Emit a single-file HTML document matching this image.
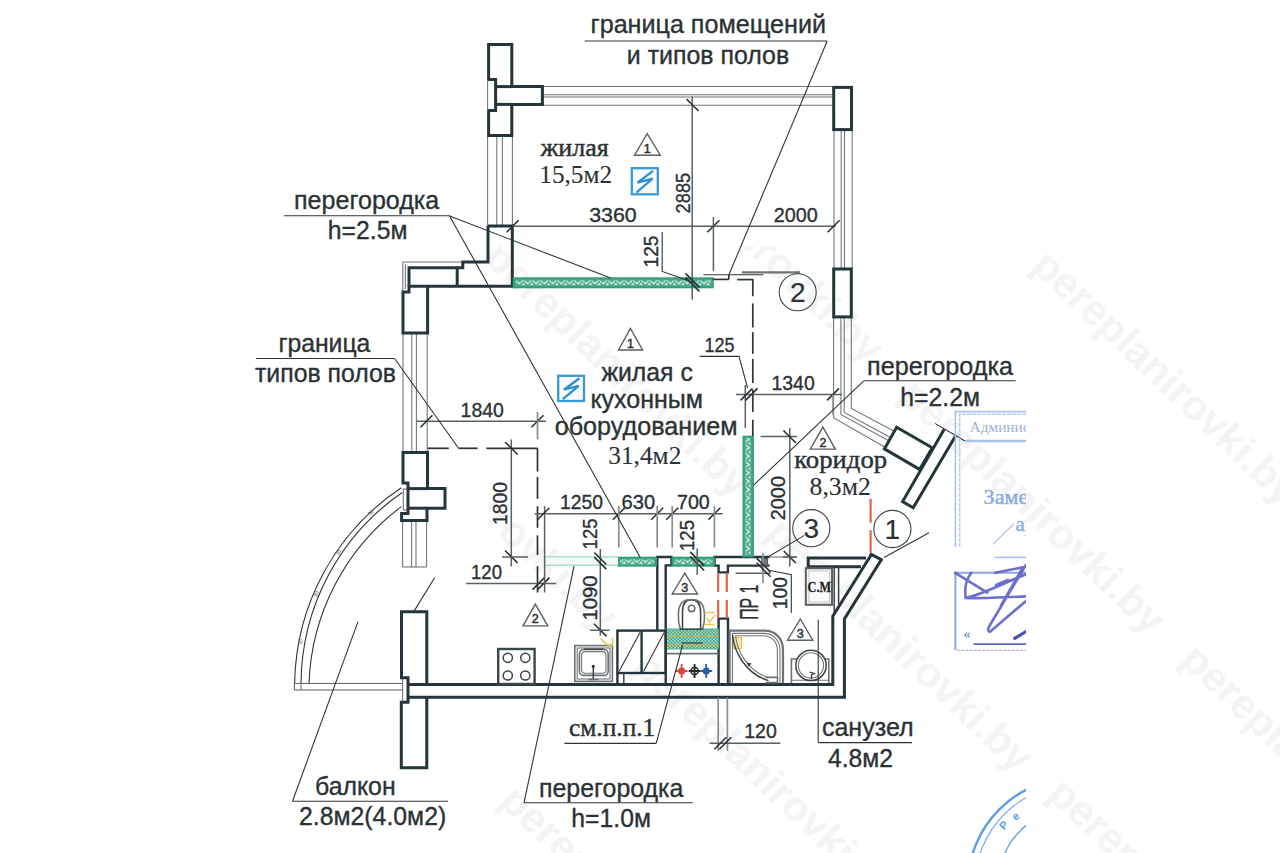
<!DOCTYPE html>
<html lang="ru"><head><meta charset="utf-8"><title>План</title>
<style>
html,body{margin:0;padding:0;background:#fff;}
body{width:1280px;height:853px;overflow:hidden;font-family:"Liberation Sans",sans-serif;}
svg{display:block}
text{font-family:"Liberation Sans",sans-serif;fill:#2b3235;stroke:#2b3235;stroke-width:0.35px;}
.s25{font-size:25px} .s20{font-size:20px} .s26{font-size:26px} .s27{font-size:28px;stroke-width:0.2px}
.s11{font-size:12.5px;stroke-width:0.5px} .s5{font-size:5.5px;fill:#555;stroke:none}
.f25{font-family:"Liberation Serif",serif;font-size:25.5px;stroke-width:0.1px}
.fb{stroke-width:0.45px}
.cmt{font-family:"Liberation Serif",serif;font-weight:bold;font-size:15px;fill:#222}
.wm{font-weight:bold;fill:#f4f4f4;stroke:none;font-family:"Liberation Sans",sans-serif}
.st{stroke:none;font-family:"Liberation Serif",serif;font-size:15.5px;fill:#9bb3dd}
.st2{font-family:"Liberation Serif",serif;font-size:21px;fill:#86acdf;stroke:#86acdf;stroke-width:0.4px}
.st3{stroke:none;font-family:"Liberation Serif",serif;font-size:14px;fill:#5b78c8}
.st4{stroke:none;font-size:11px;font-weight:bold;fill:#5b9ee2}
.w{fill:none;stroke:#24363a;stroke-width:3;stroke-linejoin:miter}
.w2{fill:none;stroke:#24363a;stroke-width:2.4;stroke-linejoin:miter}
.k{fill:none;stroke:#2e3538;stroke-width:1.1}
.k4{fill:none;stroke:#565c5f;stroke-width:1}
.dm{fill:none;stroke:#596063;stroke-width:1.5}
.ex{fill:none;stroke:#8a8e91;stroke-width:1.7}
.tk{fill:none;stroke:#2a3235;stroke-width:1.6}
.k2{fill:none;stroke:#3a4446;stroke-width:1.5}
.k3{fill:none;stroke:#39474b;stroke-width:2.4}
.k15{fill:none;stroke:#3a4346;stroke-width:1.5}
.g{fill:none;stroke:#727779;stroke-width:1.1}
.g2{fill:none;stroke:#6c7275;stroke-width:1.6}
.g3{fill:none;stroke:#6d7376;stroke-width:2.2}
.gf{fill:#70787b;stroke:#4a5356;stroke-width:1}
.t{stroke:#444;stroke-width:1}
.d{fill:none;stroke:#2a3336;stroke-width:1.7}
.r{stroke:#e2634a;stroke-width:2.2}
.od{stroke:#e9a83e;stroke-width:1.4;stroke-dasharray:3 1.6}
.gp{fill:#43a887;stroke:#2f9d7c;stroke-width:1.4}
.lpl{stroke:#a5d3c3;stroke-width:1.3}
.gb{fill:#3aa585;stroke:#2f9d7c;stroke-width:1.2}
.tr{fill:none;stroke:#5a6164;stroke-width:1.4}
.cn{fill:none;stroke:#3c4447;stroke-width:1.1}
.cm{fill:#f3f3f3;stroke:#5a5f62;stroke-width:2}
.cm2{fill:#fbfbfb;stroke:#c8c8c8;stroke-width:1}
.bl{stroke:#a8c4ec;stroke-width:2}
</style></head><body>
<svg width="1280" height="853" viewBox="0 0 1280 853">
<defs>
<pattern id="hz" width="8.4" height="4.8" patternUnits="userSpaceOnUse"><path d="M0 4.4 L2.6 0.4 L5 4.4 M5.8 0.6 H8 M5.8 4.2 H8" fill="none" stroke="#e6f4ee" stroke-width="1.3"/></pattern>
<pattern id="hv" width="5" height="8.4" patternUnits="userSpaceOnUse"><path d="M0.4 0 L4.6 2.6 L0.4 5 M0.8 5.8 V8 M4.2 5.8 V8" fill="none" stroke="#e6f4ee" stroke-width="1.3"/></pattern>
<pattern id="xh" width="3.4" height="3.4" patternUnits="userSpaceOnUse"><path d="M0 0 L3.4 3.4 M3.4 0 L0 3.4" fill="none" stroke="#d9f0e8" stroke-width="0.6"/></pattern>
<clipPath id="clw"><rect x="488" y="246" width="792" height="607"/></clipPath>
<clipPath id="cl2"><rect x="900" y="380" width="126" height="473"/></clipPath>
</defs>
<rect width="1280" height="853" fill="#ffffff"/>
<g id="wm" clip-path="url(#clw)">
<text class="wm" x="615" y="126" font-size="42" transform="rotate(43.5 615 126)">pereplanirovki.by</text>
<text class="wm" x="482" y="260" font-size="42" transform="rotate(43.5 482 260)">pereplanirovki.by</text>
<text class="wm" x="349" y="394" font-size="42" transform="rotate(43.5 349 394)">pereplanirovki.by</text>
<text class="wm" x="1030" y="268" font-size="42" transform="rotate(43.5 1030 268)">pereplanirovki.by</text>
<text class="wm" x="897" y="397" font-size="42" transform="rotate(43.5 897 397)">pereplanirovki.by</text>
<text class="wm" x="764" y="535" font-size="42" transform="rotate(43.5 764 535)">pereplanirovki.by</text>
<text class="wm" x="631" y="669" font-size="42" transform="rotate(43.5 631 669)">pereplanirovki.by</text>
<text class="wm" x="498" y="803" font-size="42" transform="rotate(43.5 498 803)">pereplanirovki.by</text>
<text class="wm" x="1312" y="528" font-size="42" transform="rotate(43.5 1312 528)">pereplanirovki.by</text>
<text class="wm" x="1179" y="662" font-size="42" transform="rotate(43.5 1179 662)">pereplanirovki.by</text>
<text class="wm" x="1046" y="796" font-size="42" transform="rotate(43.5 1046 796)">pereplanirovki.by</text>
</g>
<line class="g" x1="543.0" y1="86.5" x2="833.0" y2="86.5" />
<line class="g" x1="543.0" y1="94.8" x2="833.0" y2="94.8" />
<line class="g" x1="543.0" y1="97.0" x2="833.0" y2="97.0" />
<line class="g" x1="543.0" y1="105.2" x2="833.0" y2="105.2" />
<line class="g" x1="487.6" y1="137.0" x2="487.6" y2="226.0" />
<line class="g" x1="496.8" y1="137.0" x2="496.8" y2="226.0" />
<line class="g" x1="502.4" y1="137.0" x2="502.4" y2="226.0" />
<line class="g" x1="512.4" y1="137.0" x2="512.4" y2="226.0" />
<line class="g" x1="834.0" y1="130.5" x2="834.0" y2="268.5" />
<line class="g" x1="841.2" y1="130.5" x2="841.2" y2="268.5" />
<line class="g" x1="844.5" y1="130.5" x2="844.5" y2="268.5" />
<line class="g" x1="852.2" y1="130.5" x2="852.2" y2="268.5" />
<path class="g" d="M833.6 318.0 L833.6 417.8 L884.6 447.0"/>
<path class="g" d="M840.9 318.0 L840.9 414.5 L888.2 440.6"/>
<path class="g" d="M844.2 318.0 L844.2 412.5 L890.0 437.3"/>
<path class="g" d="M851.3 318.0 L851.3 408.4 L893.8 431.0"/>
<line class="g" x1="403.0" y1="333.0" x2="403.0" y2="452.5" />
<line class="g" x1="411.8" y1="333.0" x2="411.8" y2="452.5" />
<line class="g" x1="416.4" y1="333.0" x2="416.4" y2="452.5" />
<line class="g" x1="427.2" y1="333.0" x2="427.2" y2="452.5" />
<line class="g" x1="402.6" y1="520.5" x2="402.6" y2="567.0" />
<line class="g" x1="411.6" y1="520.5" x2="411.6" y2="567.0" />
<line class="g" x1="416.0" y1="520.5" x2="416.0" y2="567.0" />
<line class="g" x1="426.6" y1="520.5" x2="426.6" y2="567.0" />
<line class="g" x1="402.6" y1="567.0" x2="426.6" y2="567.0" />
<path class="g" d="M462.5 262.0 L402.8 262.0 L402.8 292.0"/>
<line class="g" x1="405.4" y1="264.5" x2="405.4" y2="289.0" />
<path class="k" d="M401.3 487.8 A239.5 239.5 0 0 0 294.6 683.4"/>
<path class="k" d="M402.2 492.5 A234 234 0 0 0 301.0 683.4"/>
<path class="k" d="M401.3 506.6 A231.3 231.3 0 0 0 309.0 683.4"/>
<line class="k4" x1="294.4" y1="683.4" x2="402.0" y2="683.4" />
<line class="k4" x1="294.4" y1="690.0" x2="402.0" y2="690.0" />
<line class="k4" x1="294.4" y1="683.4" x2="294.4" y2="690.0" />
<line class="g" x1="301.0" y1="683.4" x2="301.0" y2="690.0" />
<rect class="g" x="403.3" y="489.0" width="4.3" height="21.0" />
<rect class="g" x="402.6" y="678.0" width="5.0" height="24.0" />
<text class="s5" x="372" y="514" transform="rotate(-40 372 514)" text-anchor="middle">30</text>
<text class="s5" x="340" y="553" transform="rotate(-55 340 553)" text-anchor="middle">35</text>
<text class="s5" x="318" y="595" transform="rotate(-65 318 595)" text-anchor="middle">30</text>
<text class="s5" x="302" y="642" transform="rotate(-80 302 642)" text-anchor="middle">10</text>
<path class="w" d="M488.6 44.4 L511.8 44.4 L511.8 86.6 L542.4 86.6 L542.4 104.4 L511.8 104.4 L511.8 135.6 L488.6 135.6 L488.6 110.6 L495.6 110.6 L495.6 79.6 L488.6 79.6 Z"/>
<line class="w" x1="495.6" y1="86.6" x2="511.8" y2="86.6" />
<line class="w" x1="495.6" y1="104.4" x2="511.8" y2="104.4" />
<line class="g" x1="487.6" y1="80.0" x2="487.6" y2="110.4" />
<rect class="w" x="833.7" y="87.4" width="17.8" height="42.2" />
<rect class="w" x="833.7" y="269.0" width="17.6" height="47.9" />
<path class="w" d="M488.0 226.0 L512.3 226.0 L512.3 286.2 L409.0 286.2 L409.0 292.0 L403.0 292.0 L403.0 333.0 L427.6 333.0 L427.6 286.2"/>
<path class="w" d="M488.0 226.0 L488.0 262.0 L462.8 262.0 L462.8 267.8 L409.0 267.8 L409.0 286.2"/>
<line class="w" x1="457.2" y1="267.8" x2="457.2" y2="286.2" />
<path class="w" d="M403.0 452.6 L427.5 452.6 L427.5 488.6 L445.0 488.6 L445.0 508.2 L427.0 508.2 L427.0 520.5 L401.6 520.5 L401.6 513.5 L408.0 513.5 L408.0 483.0 L403.0 483.0 Z"/>
<line class="w" x1="408.0" y1="488.6" x2="427.5" y2="488.6" />
<line class="w" x1="408.0" y1="508.2" x2="427.0" y2="508.2" />
<path class="w" d="M426.8 684.4 L426.8 611.7 L401.5 611.7 L401.5 677.8 L408.0 677.8 L408.0 702.3 L401.3 702.3 L401.3 767.8 L426.8 767.8 L426.8 697.2"/>
<path class="w" d="M408.0 684.4 L832.8 684.4 L832.8 616.2 L870.9 555.2"/>
<path class="w" d="M408.0 697.2 L844.4 697.2 L844.4 619.0 L881.6 559.3"/>
<line class="w" x1="869.8" y1="553.6" x2="882.6" y2="560.4" />
<path class="w" d="M866.0 558.1 L808.2 558.1 L808.2 566.8 L861.0 566.8"/>
<line class="k2" x1="834.2" y1="567.0" x2="834.2" y2="612.0" />
<line class="k2" x1="838.6" y1="567.0" x2="838.6" y2="604.0" />
<rect class="cm" x="805.8" y="568.2" width="26.2" height="36.6" />
<rect class="cm2" x="809.0" y="571.0" width="20.5" height="31.0" />
<text class="cmt" x="807.6" y="592.2" textLength="23.4" lengthAdjust="spacingAndGlyphs" text-anchor="start">С.М</text>
<path class="w2" d="M657.3 630.6 L657.3 557.0 L671.4 557.0 L671.4 565.4 L665.7 565.4 L665.7 684.0"/>
<path class="w2" d="M769.5 557.0 L714.5 557.0 L714.5 565.6 L718.6 565.6 L718.6 572.4 L727.9 572.4 L727.9 565.6 L769.5 565.6"/>
<rect class="gf" x="761.8" y="558.0" width="5.8" height="8.0" />
<line class="g" x1="769.5" y1="557.0" x2="797.0" y2="557.0" />
<path class="w2" d="M718.6 684.0 L718.6 618.6 L728.0 618.6 L728.0 684.0"/>
<line class="r" x1="718.2" y1="573.4" x2="718.2" y2="592.0" />
<line class="r" x1="718.2" y1="600.0" x2="718.2" y2="617.8" />
<line class="r" x1="726.8" y1="573.4" x2="726.8" y2="592.0" />
<line class="r" x1="726.8" y1="600.0" x2="726.8" y2="617.8" />
<line class="r" x1="870.6" y1="498.8" x2="870.6" y2="522.8" />
<line class="r" x1="870.6" y1="530.2" x2="870.6" y2="552.6" />
<path class="w" d="M896.6 427.2 L932.2 447.8 L919.6 469.4 L884.4 448.9 Z"/>
<path class="w" d="M944.2 429.2 L902.6 501.6 L913.2 507.8 L955.8 435.6"/>
<line class="k" x1="935.0" y1="423.4" x2="965.0" y2="441.0" />
<rect class="gp" x="513.4" y="278.0" width="199.6" height="9.6" />
<rect class="gp" x="743.2" y="436.4" width="10.0" height="120.2" />
<rect class="gp" x="618.0" y="557.4" width="38.2" height="8.6" />
<rect class="gp" x="672.2" y="557.4" width="42.0" height="8.6" />
<rect x="533" y="556.2" width="85" height="9.6" fill="#f4f8f6"/>
<line class="lpl" x1="545.0" y1="556.8" x2="618.0" y2="556.8" />
<line class="lpl" x1="545.0" y1="565.2" x2="618.0" y2="565.2" />
<rect x="516" y="280.4" width="195" height="4.8" fill="url(#hz)"/>
<rect x="745.6" y="438" width="5" height="117" fill="url(#hv)"/>
<rect x="620.4" y="559.4" width="33.6" height="4.8" fill="url(#hz)"/>
<rect x="674.6" y="559.4" width="37.8" height="4.8" fill="url(#hz)"/>
<rect class="gb" x="665.5" y="629.2" width="53.0" height="19.6" />
<rect x="665.5" y="629.2" width="53" height="19.6" fill="url(#xh)"/>
<line class="od" x1="665.5" y1="635.8" x2="718.5" y2="635.8" />
<line class="od" x1="665.5" y1="645.0" x2="718.5" y2="645.0" />
<line class="k" x1="681.5" y1="643.0" x2="703.0" y2="643.0" />
<line class="g2" x1="665.7" y1="653.6" x2="718.6" y2="653.6" />
<line class="d" x1="712.6" y1="279.4" x2="728.8" y2="279.4" />
<line class="d" x1="728.8" y1="275.0" x2="728.8" y2="279.4" />
<line class="d" x1="737.2" y1="279.6" x2="753.2" y2="279.6" />
<line class="d" x1="752.8" y1="279.6" x2="752.8" y2="296.2" />
<line class="d" x1="752.8" y1="303.4" x2="752.8" y2="327.5" />
<line class="d" x1="752.8" y1="332.2" x2="752.8" y2="353.8" />
<line class="d" x1="752.8" y1="358.8" x2="752.8" y2="383.0" />
<line class="d" x1="752.8" y1="389.7" x2="752.8" y2="412.0" />
<line class="d" x1="752.8" y1="419.7" x2="752.8" y2="436.0" />
<line class="d" x1="427.5" y1="448.3" x2="448.8" y2="448.3" />
<line class="d" x1="458.4" y1="448.3" x2="477.6" y2="448.3" />
<line class="d" x1="486.4" y1="448.3" x2="537.5" y2="448.3" />
<line class="d" x1="537.5" y1="448.3" x2="537.5" y2="471.5" />
<line class="d" x1="537.5" y1="477.0" x2="537.5" y2="498.8" />
<line class="d" x1="537.5" y1="506.2" x2="537.5" y2="527.8" />
<line class="d" x1="537.5" y1="535.3" x2="537.5" y2="555.0" />
<line class="d" x1="537.5" y1="566.2" x2="537.5" y2="592.5" />
<rect class="k3" x="498.2" y="649.0" width="36.4" height="35.0" />
<circle class="k15" cx="507.8" cy="657.8" r="4.6"/>
<circle class="k15" cx="507.8" cy="675.5" r="4.6"/>
<circle class="k15" cx="525.3" cy="657.8" r="4.6"/>
<circle class="k15" cx="525.3" cy="675.5" r="4.6"/>
<rect class="g2" x="574.8" y="645.6" width="37.6" height="35.8" />
<rect class="g" x="577.2" y="648.0" width="32.8" height="31.0" />
<rect class="g2" x="579.4" y="649.4" width="28.8" height="26" rx="4.5"/>
<rect class="g" x="581.6" y="651.6" width="24.4" height="21.6" rx="3.5"/>
<line class="k2" x1="584.0" y1="649.2" x2="603.4" y2="649.2" />
<circle cx="593.3" cy="666.4" r="1.6" fill="#333"/>
<line class="k2" x1="593.3" y1="667.0" x2="593.3" y2="679.5" />
<line class="g2" x1="588.5" y1="679.5" x2="598.5" y2="679.5" />
<rect class="w2" x="617.4" y="630.6" width="48.3" height="42.4" />
<line class="w2" x1="641.6" y1="630.6" x2="641.6" y2="673.0" />
<line class="k" x1="619.0" y1="671.5" x2="640.0" y2="632.5" />
<line class="k" x1="643.5" y1="671.5" x2="664.2" y2="632.5" />
<line class="w2" x1="617.4" y1="673.0" x2="617.4" y2="684.0" />
<line class="k2" x1="623.8" y1="673.0" x2="623.8" y2="684.0" />
<circle cx="681.6" cy="671" r="3.6" fill="#d8463c"/>
<path d="M675.6 671 H687.6 M681.6 664 V678" stroke="#d8463c" stroke-width="1.8" fill="none"/>
<circle cx="694.6" cy="671" r="3.6" fill="none" stroke="#222a2c" stroke-width="1.6"/>
<path d="M688.6 671 H700.6 M694.6 664 V678" stroke="#222a2c" stroke-width="1.8" fill="none"/>
<circle cx="706.2" cy="671" r="3.6" fill="#2a5f9e"/>
<path d="M700.2 671 H712.2 M706.2 664 V678" stroke="#2a5f9e" stroke-width="1.8" fill="none"/>
<path class="k15" d="M682.5 629 V612 C682.5 603 686 599.8 691.3 599.8 C696.6 599.8 700.6 603 700.6 612 V629"/>
<path class="g2" d="M680.4 629.4 C677.2 620 677.6 607 682 602.6 C686 598.4 696.6 598.4 700.8 602.6 C705.2 607 705.6 620 702.6 629.4"/>
<circle class="g2" cx="691.6" cy="608.4" r="3.2"/>
<line class="k2" x1="680.0" y1="629.2" x2="703.0" y2="629.2" />
<path d="M704.5 612.5 h10 M704.5 624.5 h10 M706.5 617.9 l3.0 4.199999999999999 l5.5 -7.199999999999999" fill="none" stroke="#efc24a" stroke-width="1.5"/>
<path d="M600.5 638.5 l7 6.5 M607.5 645 h5 M612.5 638 v8" fill="none" stroke="#efc24a" stroke-width="1.6"/>
<rect x="733" y="637.5" width="8.5" height="11" fill="#f7e6b4" stroke="#efc24a" stroke-width="1.2"/>
<path class="g3" d="M729.6 683 V630.6 H764 C776 630.6 783 639 783 650 V683"/>
<path class="g" d="M732.4 683 V633.4 H763.6 C774 633.4 780 641 780 650.6 V683"/>
<path class="g" d="M735.4 635.8 H763 C772.4 635.8 777.4 642.4 777.4 651 V678"/>
<path class="k15" d="M732.6 635 C734 652 746 674 768.5 680.6"/>
<path class="g" d="M735.6 636 C737 651 748 671.4 768.5 677.6"/>
<path class="g2" d="M765.5 677.4 h12 v5.2 h-12"/>
<path d="M747 662.6 l4.5 1 l-3 3.2 z" fill="#333"/>
<path class="g2" d="M791.4 683 V659 H797 M825 659 H828.8 V683"/>
<line class="g" x1="791.4" y1="680.2" x2="828.8" y2="680.2" />
<circle class="k15" cx="811" cy="665.4" r="15.2"/>
<circle class="g" cx="811" cy="665.4" r="12.6"/>
<path d="M809.5 672 l4.6 1.4 l-2.6 1.6 v4" fill="none" stroke="#333" stroke-width="1.3"/>
<line class="dm" x1="692.2" y1="96.5" x2="692.2" y2="299.5" />
<line class="tk" x1="686.5" y1="99.0" x2="698.5" y2="111.0" />
<line class="tk" x1="685.4" y1="273.4" x2="699.4" y2="287.4" />
<line class="tk" x1="685.4" y1="277.4" x2="699.4" y2="291.4" />
<line class="dm" x1="512.4" y1="226.2" x2="835.5" y2="226.2" />
<line class="tk" x1="506.6" y1="232.2" x2="518.6" y2="220.2" />
<line class="tk" x1="707.4" y1="232.2" x2="719.4" y2="220.2" />
<line class="tk" x1="827.6" y1="232.2" x2="839.6" y2="220.2" />
<line class="dm" x1="713.4" y1="217.0" x2="713.4" y2="271.0" />
<path class="k" d="M662.2 232.0 L662.2 271.4 L695.0 283.0"/>
<line class="k" x1="703.4" y1="274.8" x2="763.4" y2="274.8" />
<line class="g3" x1="742.0" y1="272.4" x2="800.0" y2="272.4" />
<path class="k" d="M699.6 356.4 L739.0 356.4 L747.6 388.0"/>
<line class="dm" x1="745.3" y1="385.0" x2="745.3" y2="428.0" />
<line class="dm" x1="736.0" y1="394.4" x2="842.0" y2="394.4" />
<line class="tk" x1="740.5" y1="400.4" x2="752.5" y2="388.4" />
<line class="tk" x1="745.5" y1="400.4" x2="757.5" y2="388.4" />
<line class="tk" x1="827.0" y1="400.4" x2="839.0" y2="388.4" />
<line class="ex" x1="833.0" y1="394.4" x2="833.0" y2="415.0" />
<line class="dm" x1="760.6" y1="436.6" x2="797.0" y2="436.6" />
<line class="dm" x1="789.8" y1="428.0" x2="789.8" y2="566.4" />
<line class="tk" x1="783.5" y1="430.5" x2="796.0" y2="443.0" />
<line class="tk" x1="783.8" y1="551.0" x2="795.8" y2="563.0" />
<line class="dm" x1="783.0" y1="557.0" x2="797.0" y2="557.0" />
<line class="dm" x1="416.6" y1="421.2" x2="546.0" y2="421.2" />
<line class="tk" x1="420.5" y1="427.2" x2="432.5" y2="415.2" />
<line class="tk" x1="531.5" y1="427.2" x2="543.5" y2="415.2" />
<line class="ex" x1="537.5" y1="412.0" x2="537.5" y2="439.4" />
<line class="dm" x1="511.3" y1="439.4" x2="511.3" y2="566.4" />
<line class="tk" x1="505.0" y1="442.0" x2="517.6" y2="454.5" />
<line class="tk" x1="505.0" y1="550.5" x2="517.6" y2="563.0" />
<line class="dm" x1="502.0" y1="557.0" x2="528.0" y2="557.0" />
<line class="dm" x1="466.2" y1="583.6" x2="556.2" y2="583.6" />
<line class="tk" x1="532.5" y1="589.6" x2="544.5" y2="577.6" />
<line class="tk" x1="537.5" y1="589.6" x2="549.5" y2="577.6" />
<line class="dm" x1="544.6" y1="506.0" x2="544.6" y2="592.5" />
<line class="dm" x1="534.6" y1="513.8" x2="722.8" y2="513.8" />
<line class="tk" x1="537.4" y1="519.8" x2="549.4" y2="507.8" />
<line class="tk" x1="612.8" y1="519.8" x2="624.8" y2="507.8" />
<line class="tk" x1="651.2" y1="519.8" x2="663.2" y2="507.8" />
<line class="tk" x1="666.2" y1="519.8" x2="678.2" y2="507.8" />
<line class="tk" x1="708.4" y1="519.8" x2="720.4" y2="507.8" />
<line class="ex" x1="618.8" y1="506.0" x2="618.8" y2="547.5" />
<line class="ex" x1="657.2" y1="506.0" x2="657.2" y2="547.5" />
<line class="ex" x1="672.2" y1="506.0" x2="672.2" y2="547.5" />
<line class="ex" x1="714.4" y1="506.0" x2="714.4" y2="547.5" />
<line class="dm" x1="600.3" y1="549.0" x2="600.3" y2="635.6" />
<line class="tk" x1="594.3" y1="552.5" x2="606.3" y2="564.5" />
<line class="tk" x1="594.3" y1="557.1" x2="606.3" y2="569.1" />
<line class="tk" x1="594.0" y1="623.8" x2="606.6" y2="636.4" />
<line class="dm" x1="590.0" y1="630.2" x2="609.6" y2="630.2" />
<line class="tk" x1="690.2" y1="551.9" x2="704.2" y2="565.9" />
<line class="tk" x1="690.2" y1="556.5" x2="704.2" y2="570.5" />
<line class="dm" x1="697.2" y1="548.6" x2="697.2" y2="574.8" />
<line class="dm" x1="735.5" y1="573.2" x2="770.5" y2="573.2" />
<line class="ex" x1="763.0" y1="553.0" x2="763.0" y2="583.0" />
<path class="k" d="M770.5 570.5 L791.3 574.8 L791.3 613.0"/>
<line class="tk" x1="756.6" y1="558.1" x2="770.6" y2="572.1" />
<line class="tk" x1="756.6" y1="562.7" x2="770.6" y2="576.7" />
<line class="ex" x1="718.2" y1="697.5" x2="718.2" y2="751.0" />
<line class="ex" x1="727.4" y1="697.5" x2="727.4" y2="751.0" />
<line class="dm" x1="709.6" y1="743.2" x2="780.4" y2="743.2" />
<line class="tk" x1="714.3" y1="749.2" x2="726.3" y2="737.2" />
<line class="tk" x1="719.3" y1="749.2" x2="731.3" y2="737.2" />
<line class="k" x1="584.6" y1="41.0" x2="827.2" y2="41.0" />
<line class="k" x1="827.2" y1="41.0" x2="728.8" y2="275.0" />
<line class="k" x1="284.0" y1="215.8" x2="450.0" y2="215.8" />
<line class="k" x1="449.6" y1="216.0" x2="610.6" y2="278.0" />
<line class="k" x1="449.6" y1="216.0" x2="640.0" y2="557.0" />
<line class="k" x1="256.0" y1="358.5" x2="394.6" y2="358.5" />
<line class="k" x1="394.6" y1="358.5" x2="458.6" y2="448.3" />
<line class="k" x1="863.8" y1="380.8" x2="1015.6" y2="380.8" />
<line class="k" x1="863.8" y1="380.8" x2="753.4" y2="485.4" />
<line class="k" x1="804.4" y1="535.4" x2="765.0" y2="558.8" />
<line class="k" x1="929.0" y1="532.8" x2="884.0" y2="557.6" />
<line class="k" x1="818.2" y1="619.8" x2="818.2" y2="742.6" />
<line class="k" x1="818.2" y1="742.6" x2="912.0" y2="742.6" />
<line class="k" x1="564.4" y1="743.4" x2="656.2" y2="743.4" />
<line class="k" x1="656.2" y1="743.4" x2="682.6" y2="645.0" />
<line class="k" x1="524.0" y1="802.8" x2="692.8" y2="802.8" />
<line class="k" x1="524.0" y1="802.8" x2="574.0" y2="566.2" />
<line class="k" x1="292.5" y1="801.2" x2="448.0" y2="801.2" />
<line class="k" x1="292.5" y1="801.2" x2="358.0" y2="621.6" />
<line class="k" x1="434.6" y1="577.8" x2="414.4" y2="610.6" />
<path class="tr" d="M647.2 133.6 L634.5 155.2 L660.3 155.2 Z"/>
<text class="s11" x="647.2" y="152.7" text-anchor="middle">1</text>
<path class="tr" d="M630.4 328.4 L618.6 350.0 L642.6 350.0 Z"/>
<text class="s11" x="630.4" y="347.5" text-anchor="middle">1</text>
<path class="tr" d="M822.9 427.2 L810.3 449.1 L835.3 449.1 Z"/>
<text class="s11" x="822.9" y="446.6" text-anchor="middle">2</text>
<path class="tr" d="M535.3 604.1 L523.0 625.9 L547.8 625.9 Z"/>
<text class="s11" x="535.3" y="623.4" text-anchor="middle">2</text>
<path class="tr" d="M684.8 573.2 L672.2 594.0 L697.5 594.0 Z"/>
<text class="s11" x="684.8" y="591.5" text-anchor="middle">3</text>
<path class="tr" d="M800.3 619.0 L787.5 640.2 L812.8 640.2 Z"/>
<text class="s11" x="800.3" y="637.7" text-anchor="middle">3</text>
<circle class="cn" cx="797.7" cy="292.2" r="18.5"/>
<text class="s27" x="797.7" y="302.4" text-anchor="middle">2</text>
<circle class="cn" cx="811.3" cy="528.2" r="18.6"/>
<text class="s27" x="811.3" y="538.4" text-anchor="middle">3</text>
<circle class="cn" cx="892.4" cy="529.0" r="18.6"/>
<text class="s27" x="892.4" y="539.2" text-anchor="middle">1</text>
<rect x="631.8" y="168.2" width="26.0" height="26.1" fill="#f7fbfe" stroke="#3a9ad2" stroke-width="2.3"/>
<path d="M653.1 170.8 L637.5 182.6 L652.6 178.6 L636.5 192.5" fill="none" stroke="#2f8fd2" stroke-width="2.3" stroke-linejoin="miter"/>
<rect x="558.2" y="375.8" width="25.8" height="25.2" fill="#f7fbfe" stroke="#3a9ad2" stroke-width="2.3"/>
<path d="M579.4 378.3 L563.9 389.7 L578.8 385.9 L562.8 399.2" fill="none" stroke="#2f8fd2" stroke-width="2.3" stroke-linejoin="miter"/>
<text class="s25" x="590.5" y="32.8" textLength="235.5" lengthAdjust="spacingAndGlyphs" text-anchor="start">граница помещений</text>
<text class="s25" x="626.8" y="63.8" textLength="162.4" lengthAdjust="spacingAndGlyphs" text-anchor="start">и типов полов</text>
<text class="s25" x="294.0" y="209.4" textLength="145.3" lengthAdjust="spacingAndGlyphs" text-anchor="start">перегородка</text>
<text class="s25" x="327.8" y="239.4" textLength="79.6" lengthAdjust="spacingAndGlyphs" text-anchor="start">h=2.5м</text>
<text class="s25" x="278.4" y="351.9" textLength="92.0" lengthAdjust="spacingAndGlyphs" text-anchor="start">граница</text>
<text class="s25" x="255.0" y="381.9" textLength="141.0" lengthAdjust="spacingAndGlyphs" text-anchor="start">типов полов</text>
<text class="s25" x="601.4" y="381.0" textLength="91.4" lengthAdjust="spacingAndGlyphs" text-anchor="start">жилая с</text>
<text class="s25" x="590.4" y="408.2" textLength="112.6" lengthAdjust="spacingAndGlyphs" text-anchor="start">кухонным</text>
<text class="s25" x="554.7" y="435.0" textLength="182.8" lengthAdjust="spacingAndGlyphs" text-anchor="start">оборудованием</text>
<text class="s25" x="867.0" y="374.7" textLength="146.0" lengthAdjust="spacingAndGlyphs" text-anchor="start">перегородка</text>
<text class="s25" x="900.3" y="405.6" textLength="79.7" lengthAdjust="spacingAndGlyphs" text-anchor="start">h=2.2м</text>
<text class="s25" x="315.0" y="795.0" textLength="80.6" lengthAdjust="spacingAndGlyphs" text-anchor="start">балкон</text>
<text class="s25" x="299.0" y="825.0" textLength="147.2" lengthAdjust="spacingAndGlyphs" text-anchor="start">2.8м2(4.0м2)</text>
<text class="s25" x="539.0" y="797.0" textLength="144.4" lengthAdjust="spacingAndGlyphs" text-anchor="start">перегородка</text>
<text class="s25" x="571.3" y="827.0" textLength="79.7" lengthAdjust="spacingAndGlyphs" text-anchor="start">h=1.0м</text>
<text class="s25" x="821.9" y="736.0" textLength="91.8" lengthAdjust="spacingAndGlyphs" text-anchor="start">санузел</text>
<text class="s25" x="828.0" y="767.0" textLength="65.0" lengthAdjust="spacingAndGlyphs" text-anchor="start">4.8м2</text>
<text class="f25 fb" x="540.4" y="156.0" textLength="68.4" lengthAdjust="spacingAndGlyphs" text-anchor="start">жилая</text>
<text class="f25" x="539.3" y="183.4" textLength="72.8" lengthAdjust="spacingAndGlyphs" text-anchor="start">15,5м2</text>
<text class="f25" x="608.3" y="463.8" textLength="73.0" lengthAdjust="spacingAndGlyphs" text-anchor="start">31,4м2</text>
<text class="f25 fb" x="794.2" y="467.5" textLength="92.9" lengthAdjust="spacingAndGlyphs" text-anchor="start">коридор</text>
<text class="f25" x="809.6" y="495.4" textLength="61.2" lengthAdjust="spacingAndGlyphs" text-anchor="start">8,3м2</text>
<text class="f25 fb" x="569.0" y="736.0" textLength="86.3" lengthAdjust="spacingAndGlyphs" text-anchor="start">см.п.п.1</text>
<text class="s20" x="589.2" y="221.6" textLength="47.5" lengthAdjust="spacingAndGlyphs" text-anchor="start">3360</text>
<text class="s20" x="773.8" y="222.0" textLength="44.0" lengthAdjust="spacingAndGlyphs" text-anchor="start">2000</text>
<text class="s20" x="704.4" y="352.0" textLength="30.0" lengthAdjust="spacingAndGlyphs" text-anchor="start">125</text>
<text class="s20" x="771.5" y="390.2" textLength="43.2" lengthAdjust="spacingAndGlyphs" text-anchor="start">1340</text>
<text class="s20" x="460.6" y="416.6" textLength="43.2" lengthAdjust="spacingAndGlyphs" text-anchor="start">1840</text>
<text class="s20" x="471.0" y="579.4" textLength="31.0" lengthAdjust="spacingAndGlyphs" text-anchor="start">120</text>
<text class="s20" x="560.0" y="509.0" textLength="43.0" lengthAdjust="spacingAndGlyphs" text-anchor="start">1250</text>
<text class="s20" x="621.6" y="509.0" textLength="33.6" lengthAdjust="spacingAndGlyphs" text-anchor="start">630</text>
<text class="s20" x="677.0" y="509.0" textLength="32.8" lengthAdjust="spacingAndGlyphs" text-anchor="start">700</text>
<text class="s20" x="744.2" y="738.4" textLength="32.6" lengthAdjust="spacingAndGlyphs" text-anchor="start">120</text>
<text class="s20" x="690.4" y="213.4" textLength="40.6" lengthAdjust="spacingAndGlyphs" transform="rotate(-90 690.4 213.4)" text-anchor="start">2885</text>
<text class="s20" x="658.2" y="267.5" textLength="32.0" lengthAdjust="spacingAndGlyphs" transform="rotate(-90 658.2 267.5)" text-anchor="start">125</text>
<text class="s20" x="507.0" y="525.0" textLength="43.0" lengthAdjust="spacingAndGlyphs" transform="rotate(-90 507.0 525.0)" text-anchor="start">1800</text>
<text class="s20" x="596.6" y="549.4" textLength="31.0" lengthAdjust="spacingAndGlyphs" transform="rotate(-90 596.6 549.4)" text-anchor="start">125</text>
<text class="s20" x="596.6" y="620.6" textLength="45.0" lengthAdjust="spacingAndGlyphs" transform="rotate(-90 596.6 620.6)" text-anchor="start">1090</text>
<text class="s20" x="693.6" y="551.0" textLength="31.0" lengthAdjust="spacingAndGlyphs" transform="rotate(-90 693.6 551.0)" text-anchor="start">125</text>
<text class="s20" x="784.6" y="520.3" textLength="44.3" lengthAdjust="spacingAndGlyphs" transform="rotate(-90 784.6 520.3)" text-anchor="start">2000</text>
<text class="s20" x="787.0" y="609.2" textLength="32.0" lengthAdjust="spacingAndGlyphs" transform="rotate(-90 787.0 609.2)" text-anchor="start">100</text>
<text class="s26" x="758.4" y="619.8" textLength="35.2" lengthAdjust="spacingAndGlyphs" transform="rotate(-90 758.4 619.8)" text-anchor="start">ПР 1</text>
<g id="stamps" clip-path="url(#cl2)">
<path d="M1026 411.6 H955.4 V547" fill="none" stroke="#a9c3ea" stroke-width="1.6"/>
<path d="M1026 414.2 H959.6 V547" fill="none" stroke="#b7cdef" stroke-width="1.6" stroke-dasharray="4 1"/>
<path d="M965 441 H1026" fill="none" stroke="#a9c2e8" stroke-width="2.4"/>
<text x="969.6" y="432" class="st" textLength="60" lengthAdjust="spacingAndGlyphs">Админис</text>
<text x="983.6" y="504.2" class="st2" textLength="55" lengthAdjust="spacingAndGlyphs">Замес</text>
<text x="1015.4" y="531.4" class="st2">ар</text>
<path d="M993 544.4 L1013.8 523.8" fill="none" stroke="#b4c6ec" stroke-width="1.3"/>
<path d="M995 557.4 H1026" fill="none" stroke="#a9c2e8" stroke-width="1.6"/>
<path d="M1026 572.8 H955.4 V650" fill="none" stroke="#8ea6de" stroke-width="2"/>
<path d="M957 650.4 H1026" fill="none" stroke="#a9b8e4" stroke-width="1.4" stroke-dasharray="3 1.2"/>
<path d="M973.5 644.2 H1026" fill="none" stroke="#5468b8" stroke-width="1.8"/>
<text x="963.6" y="639.4" class="st3">«</text>
<path d="M955.2 572.8 L987.3 592.6 M971.3 572.8 C966 580 964 588 965.9 597.9 C975 598.6 1000 597.6 1026 596.4 M965.4 598 C985 594 1010 580 1026 574.3 M994.9 572.8 L1026 566.7 M1026 565 L988.8 627 C987 632 990 633 992 630 L1026 601 M1022 569 L1001 605.5 M996 585 L1008 580" fill="none" stroke="#5d62c6" stroke-width="2.6" stroke-linecap="round" stroke-linejoin="round" opacity="0.9"/>
<path d="M1026 631.5 L1014.7 638.3" fill="none" stroke="#4a50b8" stroke-width="3.2" stroke-linecap="round"/>
<circle cx="1075" cy="885" r="107" fill="none" stroke="#5b9ee2" stroke-width="2.4"/>
<circle cx="1075" cy="885" r="100" fill="none" stroke="#7db2ea" stroke-width="1.3"/>
<circle cx="1075" cy="885" r="77" fill="none" stroke="#6aa6e6" stroke-width="1.5"/>
<text x="1004" y="830.5" class="st4" transform="rotate(-47 1004 830.5)">P</text>
<text x="1015.5" y="821" class="st4" transform="rotate(-38 1015.5 821)">e</text>
</g>
</svg>
</body></html>
